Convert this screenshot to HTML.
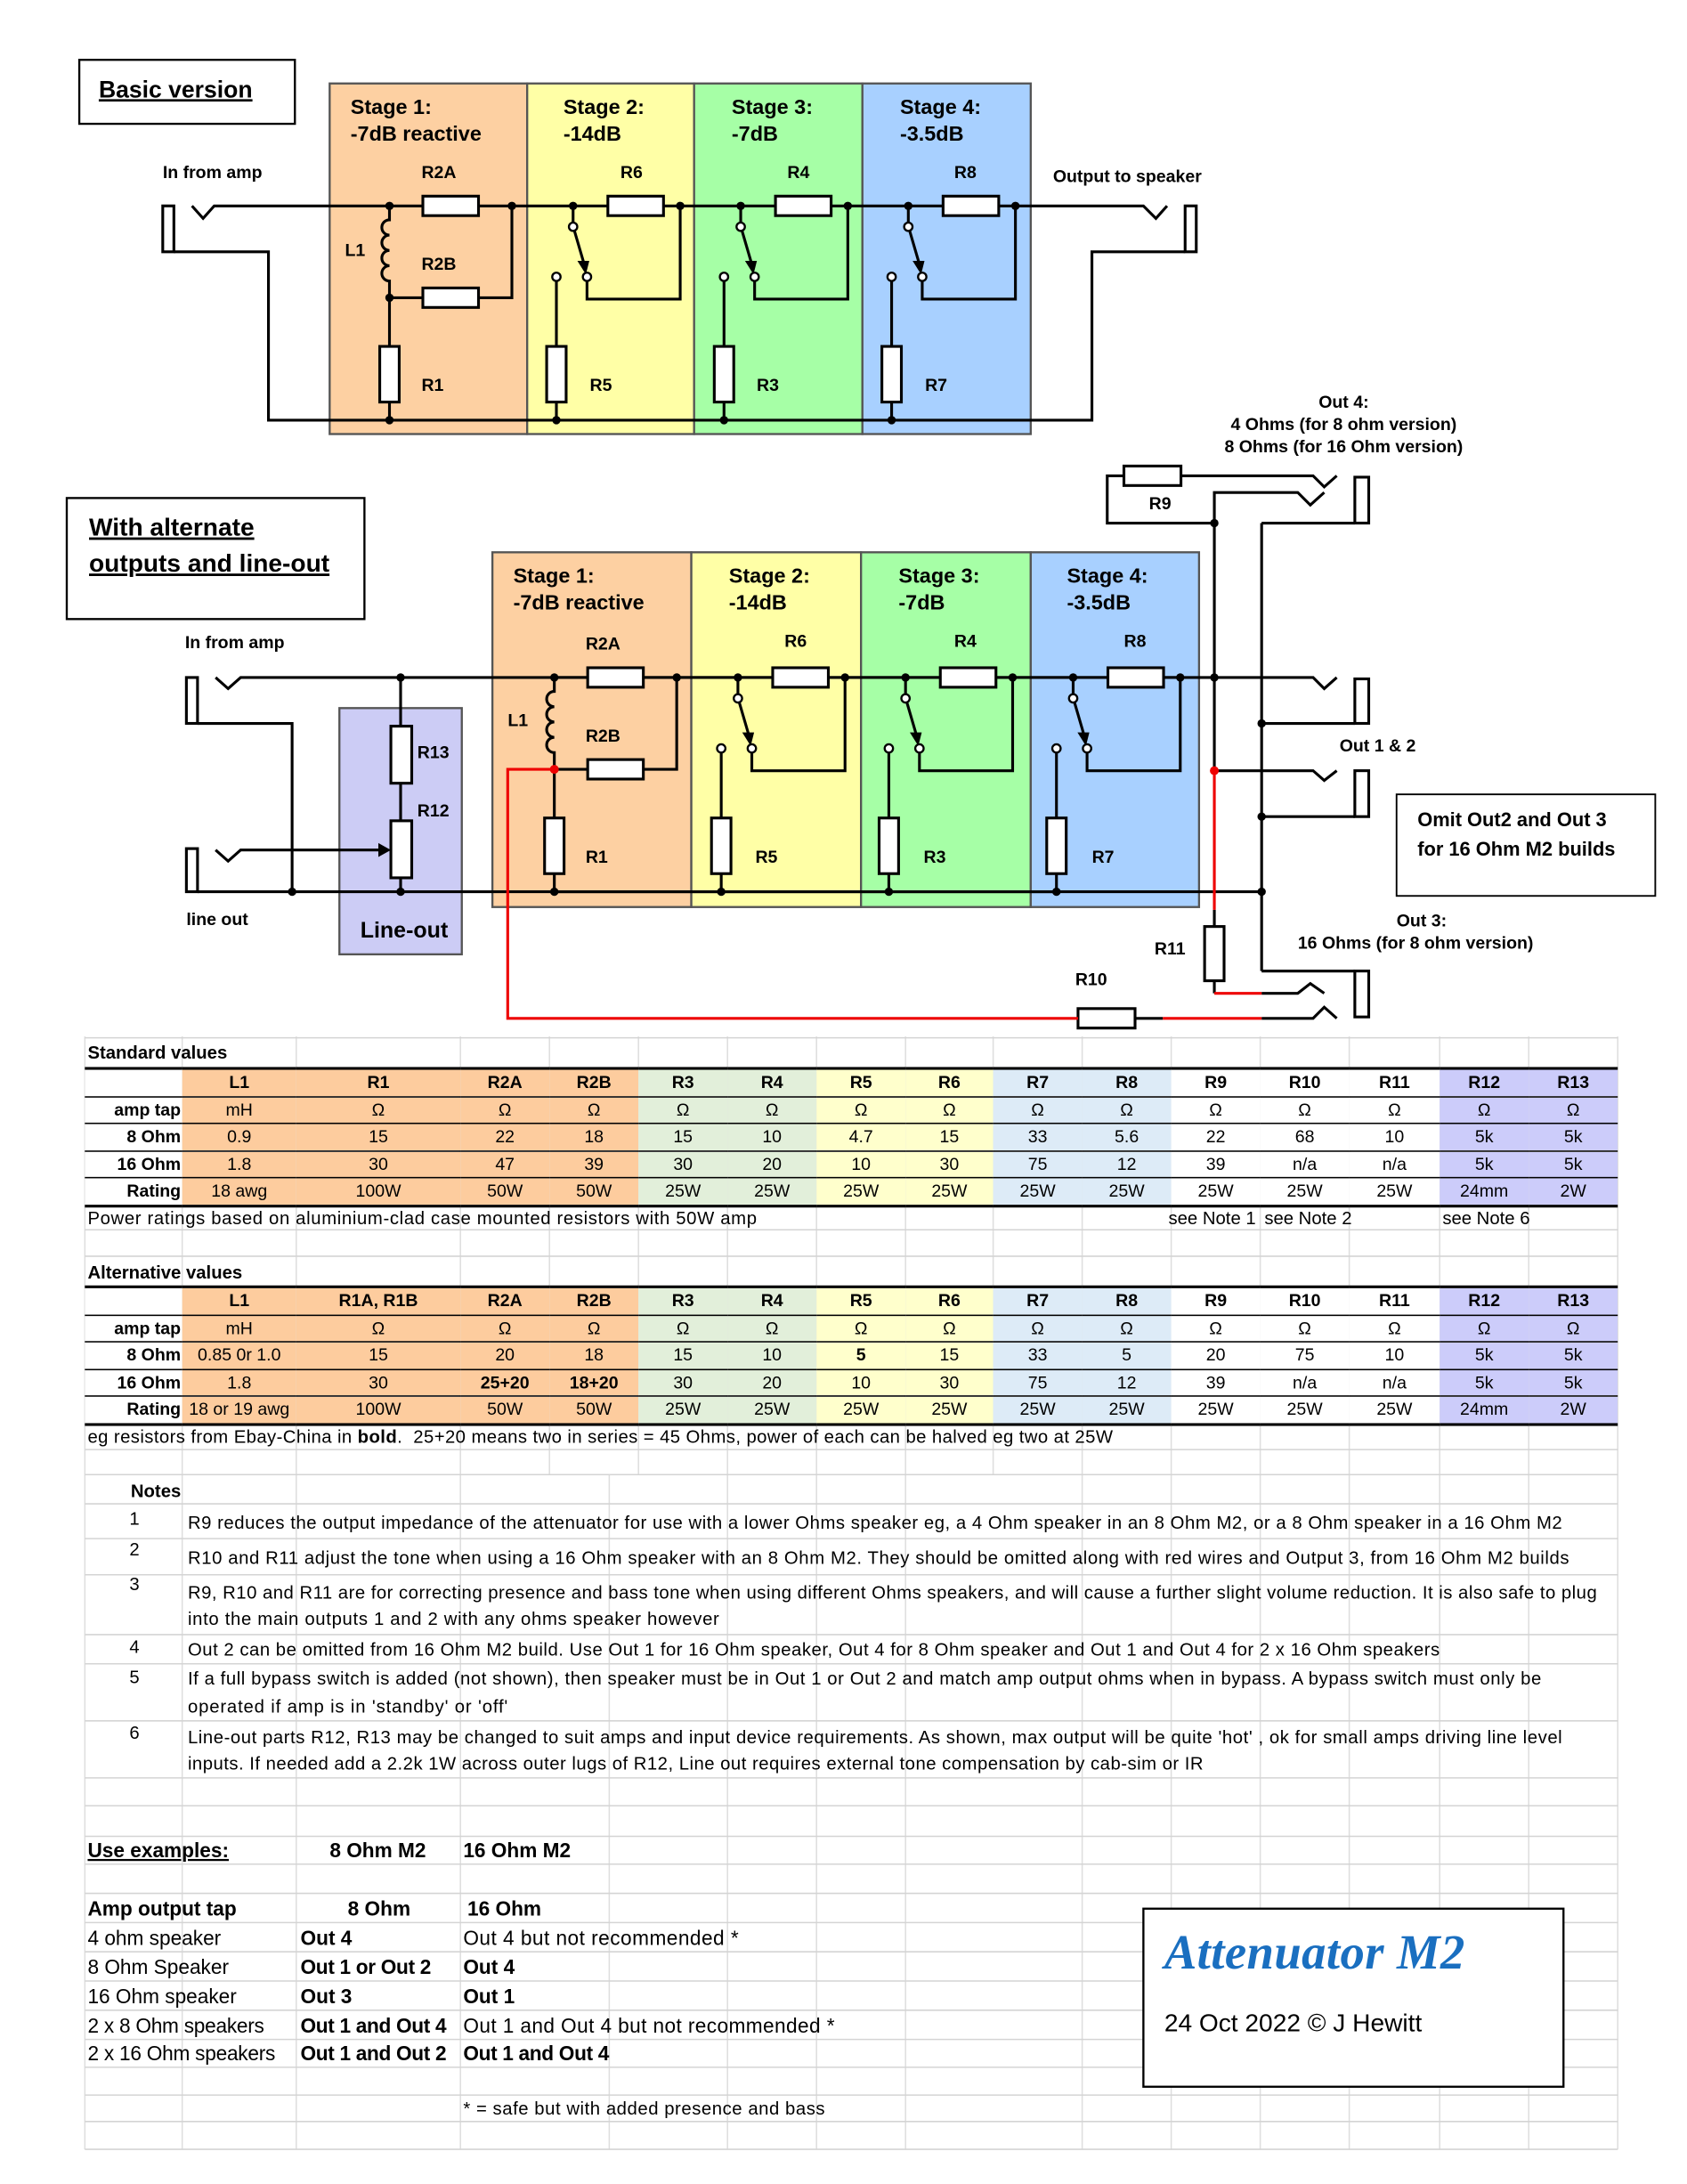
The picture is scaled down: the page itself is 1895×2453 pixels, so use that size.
<!DOCTYPE html>
<html><head><meta charset="utf-8"><style>
html,body{margin:0;padding:0;background:#fff;}
#wrap{position:absolute;left:0;top:0;width:1213px;height:1570px;transform:scale(1.5625);transform-origin:0 0;font-family:"Liberation Sans",sans-serif;}
svg{position:absolute;left:0;top:0;}
table.t{position:absolute;left:61px;width:1102px;border-collapse:collapse;table-layout:fixed;font-size:12.5px;font-family:"Liberation Sans",sans-serif;border-top:2px solid #000;border-bottom:2px solid #000;}
table.t td{height:18.5px;padding:0;text-align:center;border-top:1px solid #000;white-space:nowrap;overflow:hidden;line-height:18px;}
table.t td.l{text-align:right;font-weight:bold;background:#fff;padding-right:1px;}
table.t tr.h td{font-weight:bold;}
.o{background:#fdcc9e;} .g{background:#e2efda;} .y{background:#ffffcc;} .b{background:#ddebf7;} .w{background:#fff;} .p{background:#ccccfa;}
</style></head><body><div id="wrap">
<svg width="1213" height="1570" viewBox="0 0 1213 1570" font-family="Liberation Sans, sans-serif">
<defs>
<g id="stg" stroke="#000" stroke-width="2" fill="none">
 <line x1="280" y1="148" x2="730" y2="148"/>
 <line x1="280" y1="302" x2="641" y2="302"/>
 <path d="M280,148 V158 a5.5,5.5 0 0 0 0,11 a5.5,5.5 0 0 0 0,11 a5.5,5.5 0 0 0 0,11 a5.5,5.5 0 0 0 0,11 V214 H368 V148 M280,214 V302"/>
 <rect x="304" y="141" width="40" height="14" fill="#fff"/>
 <rect x="304" y="207" width="40" height="14" fill="#fff"/>
 <rect x="273" y="249" width="14" height="40" fill="#fff"/>
 <g id="sw">
  <path d="M412,148 V160 M400,202 V302 M422,202 V215 H489 V148"/>
  <line x1="413" y1="166" x2="420" y2="190"/>
  <polygon points="416,188 423,188 421,196" fill="#000" stroke-width="1"/>
  <circle cx="412" cy="163" r="3" fill="#fff" stroke-width="1.5"/>
  <circle cx="422" cy="199" r="3" fill="#fff" stroke-width="1.5"/>
  <circle cx="400" cy="199" r="3" fill="#fff" stroke-width="1.5"/>
  <rect x="437" y="141" width="40" height="14" fill="#fff"/>
  <rect x="393" y="249" width="14" height="40" fill="#fff"/>
  <circle cx="412" cy="148" r="3" fill="#000" stroke="none"/>
  <circle cx="489" cy="148" r="3" fill="#000" stroke="none"/>
  <circle cx="400" cy="302" r="3" fill="#000" stroke="none"/>
 </g>
 <use href="#sw" x="120.5"/>
 <use href="#sw" x="241"/>
 <circle cx="280" cy="148" r="3" fill="#000" stroke="none"/>
 <circle cx="280" cy="214" r="3" fill="#000" stroke="none"/>
 <circle cx="368" cy="148" r="3" fill="#000" stroke="none"/>
 <circle cx="280" cy="302" r="3" fill="#000" stroke="none"/>
</g>
</defs>
<!-- spreadsheet grid -->
<g stroke="#dedede" stroke-width="1">
 <line x1="61" y1="745" x2="61" y2="1545"/><line x1="131" y1="745" x2="131" y2="1545"/><line x1="213" y1="745" x2="213" y2="1545"/><line x1="331" y1="745" x2="331" y2="1545"/><line x1="395" y1="745" x2="395" y2="1060"/><line x1="438" y1="1060" x2="438" y2="1545"/><line x1="459" y1="745" x2="459" y2="1060"/><line x1="523" y1="745" x2="523" y2="1545"/><line x1="587" y1="745" x2="587" y2="1545"/><line x1="651" y1="745" x2="651" y2="1545"/><line x1="714" y1="745" x2="714" y2="1060"/><line x1="778" y1="745" x2="778" y2="1545"/><line x1="842" y1="745" x2="842" y2="1545"/><line x1="906" y1="745" x2="906" y2="1545"/><line x1="970" y1="745" x2="970" y2="1545"/><line x1="1035" y1="745" x2="1035" y2="1545"/><line x1="1099" y1="745" x2="1099" y2="1545"/><line x1="1163" y1="745" x2="1163" y2="1545"/>
 <g stroke="#d4d4d4"><line x1="61" x2="1163" y1="746" y2="746"/><line x1="61" x2="1163" y1="884" y2="884"/><line x1="61" x2="1163" y1="903" y2="903"/><line x1="61" x2="1163" y1="1042" y2="1042"/><line x1="61" x2="1163" y1="1060" y2="1060"/><line x1="61" x2="1163" y1="1081" y2="1081"/><line x1="61" x2="1163" y1="1106" y2="1106"/><line x1="61" x2="1163" y1="1132" y2="1132"/><line x1="61" x2="1163" y1="1175" y2="1175"/><line x1="61" x2="1163" y1="1196" y2="1196"/><line x1="61" x2="1163" y1="1237" y2="1237"/><line x1="61" x2="1163" y1="1278" y2="1278"/><line x1="61" x2="1163" y1="1298" y2="1298"/><line x1="61" x2="1163" y1="1320" y2="1320"/><line x1="61" x2="1163" y1="1340" y2="1340"/><line x1="61" x2="1163" y1="1361" y2="1361"/><line x1="61" x2="1163" y1="1382" y2="1382"/><line x1="61" x2="1163" y1="1403" y2="1403"/><line x1="61" x2="1163" y1="1424" y2="1424"/><line x1="61" x2="1163" y1="1445" y2="1445"/><line x1="61" x2="1163" y1="1466" y2="1466"/><line x1="61" x2="1163" y1="1486" y2="1486"/><line x1="61" x2="1163" y1="1506" y2="1506"/><line x1="61" x2="1163" y1="1525" y2="1525"/><line x1="61" x2="1163" y1="1545" y2="1545"/></g>
</g>

<!-- DIAGRAM 1 -->
<rect x="57" y="43" width="155" height="46" fill="#fff" stroke="#000" stroke-width="1.5"/>
<text x="71" y="70" font-size="17" font-weight="bold" text-decoration="underline">Basic version</text>
<g stroke="#555" stroke-width="1.5">
<rect x="237" y="60" width="142" height="252" fill="#fdd0a2"/>
<rect x="379" y="60" width="120" height="252" fill="#ffffa6"/>
<rect x="499" y="60" width="121" height="252" fill="#a6ffa6"/>
<rect x="620" y="60" width="121" height="252" fill="#a8d0ff"/>
</g>
<g font-size="15" font-weight="bold">
<text x="252" y="82">Stage 1:</text><text x="252" y="101">-7dB reactive</text>
<text x="405" y="82">Stage 2:</text><text x="405" y="101">-14dB</text>
<text x="526" y="82">Stage 3:</text><text x="526" y="101">-7dB</text>
<text x="647" y="82">Stage 4:</text><text x="647" y="101">-3.5dB</text>
</g>
<g stroke="#000" stroke-width="2" fill="none">
<rect x="117" y="148" width="8" height="33"/>
<polyline points="138,148 146,157 154,148 280,148"/>
<polyline points="125,181 193,181 193,302 280,302"/>
<polyline points="730,148 822,148 831,157 839,148"/>
<rect x="852" y="148" width="8" height="33"/>
<polyline points="641,302 785,302 785,181 852,181"/>
</g>
<use href="#stg"/>
<g font-size="12.5" font-weight="bold">
<text x="117" y="128">In from amp</text>
<text x="757" y="131">Output to speaker</text>
<text x="303" y="128">R2A</text><text x="303" y="194">R2B</text><text x="248" y="184">L1</text><text x="303" y="281">R1</text>
<text x="446" y="128">R6</text><text x="424" y="281">R5</text>
<text x="566" y="128">R4</text><text x="544" y="281">R3</text>
<text x="686" y="128">R8</text><text x="665" y="281">R7</text>
</g>

<!-- DIAGRAM 2 -->
<rect x="48" y="358" width="214" height="87" fill="#fff" stroke="#000" stroke-width="1.5"/>
<g font-size="18" font-weight="bold" text-decoration="underline"><text x="64" y="385">With alternate</text><text x="64" y="411">outputs and line-out</text></g>
<g stroke="#555" stroke-width="1.5">
<rect x="354" y="397" width="143" height="255" fill="#fdd0a2"/>
<rect x="497" y="397" width="122" height="255" fill="#ffffa6"/>
<rect x="619" y="397" width="122" height="255" fill="#a6ffa6"/>
<rect x="741" y="397" width="121" height="255" fill="#a8d0ff"/>
<rect x="244" y="509" width="88" height="177" fill="#ccccf5"/>
</g>
<g font-size="15" font-weight="bold">
<text x="369" y="419">Stage 1:</text><text x="369" y="438">-7dB reactive</text>
<text x="524" y="419">Stage 2:</text><text x="524" y="438">-14dB</text>
<text x="646" y="419">Stage 3:</text><text x="646" y="438">-7dB</text>
<text x="767" y="419">Stage 4:</text><text x="767" y="438">-3.5dB</text>
<text x="259" y="674" font-size="16">Line-out</text>
</g>
<g stroke="#000" stroke-width="2" fill="none">
<rect x="134" y="487" width="8" height="33"/>
<polyline points="155,487 164,495 173,487 944,487 952,495 961,487"/>
<polyline points="142,520 210,520 210,641"/>
<rect x="134" y="610" width="8" height="31"/>
<polyline points="155,611 164,619 173,611 272,611"/>
<line x1="142" y1="641" x2="907" y2="641"/>
<line x1="288" y1="487" x2="288" y2="641"/>
<rect x="281" y="522" width="15" height="41" fill="#fff"/>
<rect x="281" y="590" width="15" height="41" fill="#fff"/>
<line x1="873" y1="376" x2="873" y2="554"/>
<line x1="907" y1="376" x2="907" y2="698"/>
<polyline points="873,376 796,376 796,342 808,342"/>
<polyline points="849,342 944,342 952,350 961,342"/>
<polyline points="873,376 873,354 933,354 942,363 952,354"/>
<rect x="974" y="343" width="10" height="33"/>
<line x1="974" y1="376" x2="907" y2="376"/>
<rect x="974" y="488" width="10" height="32"/>
<line x1="974" y1="520" x2="907" y2="520"/>
<polyline points="873,554 944,554 952,561 961,554"/>
<rect x="974" y="554" width="10" height="33"/>
<line x1="974" y1="587" x2="907" y2="587"/>
<rect x="974" y="698" width="10" height="33"/>
<line x1="974" y1="698" x2="907" y2="698"/>
<polyline points="873,654 873,666"/>
<polyline points="873,705 873,714"/>
<polyline points="907,714 933,714 942,707 952,714"/>
<polyline points="816,732 836,732"/>
<polyline points="907,732 944,732 952,724 961,732"/>
<rect x="808" y="335" width="41" height="14" fill="#fff"/>
<rect x="866" y="666" width="14" height="39" fill="#fff"/>
<rect x="775" y="725" width="41" height="14" fill="#fff"/>
</g>
<polygon points="272,606 281,611 272,616" fill="#000"/>
<use href="#stg" x="118.5" y="339"/>
<g stroke="#e00" stroke-width="2" fill="none">
<polyline points="398,553 365,553 365,732 775,732"/>
<line x1="836" y1="732" x2="907" y2="732"/>
<line x1="873" y1="554" x2="873" y2="654"/>
<line x1="873" y1="714" x2="907" y2="714"/>
</g>
<g fill="#000">
<circle cx="210" cy="641" r="3"/><circle cx="288" cy="641" r="3"/><circle cx="288" cy="487" r="3"/>
<circle cx="873" cy="376" r="3"/><circle cx="873" cy="487" r="3"/><circle cx="907" cy="520" r="3"/><circle cx="907" cy="587" r="3"/><circle cx="907" cy="641" r="3"/>
</g>
<circle cx="398.5" cy="553" r="3.2" fill="#e00"/><circle cx="873" cy="554" r="3.2" fill="#e00"/>
<g font-size="12.5" font-weight="bold">
<text x="133" y="466">In from amp</text>
<text x="134" y="665">line out</text>
<text x="300" y="545">R13</text><text x="300" y="587">R12</text>
<text x="365" y="522">L1</text>
<text x="421" y="467">R2A</text><text x="421" y="533">R2B</text><text x="421" y="620">R1</text>
<text x="564" y="465">R6</text><text x="543" y="620">R5</text>
<text x="686" y="465">R4</text><text x="664" y="620">R3</text>
<text x="808" y="465">R8</text><text x="785" y="620">R7</text>
<text x="826" y="366">R9</text><text x="830" y="686">R11</text><text x="773" y="708">R10</text>
<text x="966" y="293" text-anchor="middle">Out 4:</text>
<text x="966" y="309" text-anchor="middle">4 Ohms (for 8 ohm version)</text>
<text x="966" y="325" text-anchor="middle">8 Ohms (for 16 Ohm version)</text>
<text x="963" y="540">Out 1 &amp; 2</text>
<text x="1004" y="666">Out 3:</text>
<text x="933" y="682">16 Ohms (for 8 ohm version)</text>
</g>
<rect x="1004" y="571" width="186" height="73" fill="#fff" stroke="#000" stroke-width="1.2"/>
<g font-size="14" font-weight="bold"><text x="1019" y="594">Omit Out2 and Out 3</text><text x="1019" y="615">for 16 Ohm M2 builds</text></g>

<!-- table captions & notes -->
<g font-size="13" lengthAdjust="spacing">
<text x="63" y="761" font-weight="bold">Standard values</text>
<text x="63" y="880" textLength="481">Power ratings based on aluminium-clad case mounted resistors with 50W amp</text>
<text x="840" y="880">see Note 1</text><text x="909" y="880">see Note 2</text><text x="1037" y="880">see Note 6</text>
<text x="63" y="919" font-weight="bold">Alternative  values</text>
<text x="63" y="1037" xml:space="preserve" textLength="737">eg resistors from Ebay-China in <tspan font-weight="bold">bold</tspan>.  25+20 means two in series = 45 Ohms, power of each can be halved eg two at 25W</text>
<text x="94" y="1076" font-weight="bold">Notes</text>
<text x="93" y="1096">1</text><text x="135" y="1099" textLength="988">R9 reduces the output impedance of the attenuator for use with a lower Ohms speaker eg, a 4 Ohm speaker in an 8 Ohm M2, or a 8 Ohm speaker in a 16 Ohm M2</text>
<text x="93" y="1118">2</text><text x="135" y="1124" textLength="993">R10 and R11 adjust the tone when using a 16 Ohm speaker with an 8 Ohm M2. They should be omitted along with red wires and Output 3, from 16 Ohm M2 builds</text>
<text x="93" y="1143">3</text><text x="135" y="1149" textLength="1013">R9, R10 and R11 are for correcting presence and bass tone when using different Ohms speakers, and will cause a further slight volume reduction. It is also safe to plug</text>
<text x="135" y="1168" textLength="382">into the main outputs 1 and 2 with any ohms speaker however</text>
<text x="93" y="1188">4</text><text x="135" y="1190" textLength="900">Out 2 can be omitted from 16 Ohm M2 build. Use Out 1 for 16 Ohm speaker, Out 4 for 8 Ohm speaker and Out 1 and Out 4 for 2 x 16 Ohm speakers</text>
<text x="93" y="1210">5</text><text x="135" y="1211" textLength="973">If a full bypass switch is added (not shown), then speaker must be in Out 1 or Out 2 and match amp output ohms when in bypass. A bypass switch must only be</text>
<text x="135" y="1231" textLength="230">operated if amp is in 'standby' or 'off'</text>
<text x="93" y="1250">6</text><text x="135" y="1253" textLength="988">Line-out parts R12, R13 may be changed to suit amps and input device requirements. As shown, max output will be quite 'hot' , ok for small amps driving line level</text>
<text x="135" y="1272" textLength="730">inputs. If needed add a 2.2k 1W across outer lugs of R12, Line out requires external tone compensation by cab-sim or IR</text>
</g>
<g font-size="14.5">
<text x="63" y="1335" font-weight="bold" text-decoration="underline">Use examples:</text>
<text x="237" y="1335" font-weight="bold">8 Ohm M2</text><text x="333" y="1335" font-weight="bold">16 Ohm M2</text>
<text x="63" y="1377" font-weight="bold">Amp output tap</text><text x="250" y="1377" font-weight="bold">8 Ohm</text><text x="336" y="1377" font-weight="bold">16 Ohm</text>
<text x="63" y="1398">4 ohm speaker</text><text x="216" y="1398" font-weight="bold">Out 4</text><text x="333" y="1398" textLength="198">Out 4 but not recommended *</text>
<text x="63" y="1419">8 Ohm Speaker</text><text x="216" y="1419" font-weight="bold" textLength="94">Out 1 or Out 2</text><text x="333" y="1419" font-weight="bold">Out 4</text>
<text x="63" y="1440">16 Ohm speaker</text><text x="216" y="1440" font-weight="bold">Out 3</text><text x="333" y="1440" font-weight="bold">Out 1</text>
<text x="63" y="1461" textLength="127">2 x 8 Ohm speakers</text><text x="216" y="1461" font-weight="bold" textLength="105">Out 1 and Out 4</text><text x="333" y="1461" textLength="267">Out 1 and Out 4 but not recommended *</text>
<text x="63" y="1481" textLength="135">2 x 16 Ohm speakers</text><text x="216" y="1481" font-weight="bold" textLength="105">Out 1 and Out 2</text><text x="333" y="1481" font-weight="bold" textLength="105">Out 1 and Out 4</text>
<text x="333" y="1520" font-size="13" textLength="260">* = safe but with added presence and bass</text>
</g>
<rect x="822" y="1372" width="302" height="128" fill="#fff" stroke="#000" stroke-width="1.5"/>
<text x="837" y="1415" font-family="Liberation Serif, serif" font-size="35" font-weight="bold" font-style="italic" fill="#1a6fc0" textLength="216">Attenuator M2</text>
<text x="837" y="1460" font-size="18">24 Oct 2022 © J Hewitt</text>
</svg>

<table class="t" style="top:767px">
<colgroup><col style="width:70px"><col style="width:82px"><col style="width:118px"><col style="width:64px"><col style="width:64px"><col style="width:64px"><col style="width:64px"><col style="width:64px"><col style="width:63px"><col style="width:64px"><col style="width:64px"><col style="width:64px"><col style="width:64px"><col style="width:65px"><col style="width:64px"><col style="width:64px"></colgroup>
<tr class="h"><td class="l"></td><td class="o">L1</td><td class="o">R1</td><td class="o">R2A</td><td class="o">R2B</td><td class="g">R3</td><td class="g">R4</td><td class="y">R5</td><td class="y">R6</td><td class="b">R7</td><td class="b">R8</td><td class="w">R9</td><td class="w">R10</td><td class="w">R11</td><td class="p">R12</td><td class="p">R13</td></tr>
<tr><td class="l">amp tap</td><td class="o">mH</td><td class="o">Ω</td><td class="o">Ω</td><td class="o">Ω</td><td class="g">Ω</td><td class="g">Ω</td><td class="y">Ω</td><td class="y">Ω</td><td class="b">Ω</td><td class="b">Ω</td><td class="w">Ω</td><td class="w">Ω</td><td class="w">Ω</td><td class="p">Ω</td><td class="p">Ω</td></tr>
<tr><td class="l">8 Ohm</td><td class="o">0.9</td><td class="o">15</td><td class="o">22</td><td class="o">18</td><td class="g">15</td><td class="g">10</td><td class="y">4.7</td><td class="y">15</td><td class="b">33</td><td class="b">5.6</td><td class="w">22</td><td class="w">68</td><td class="w">10</td><td class="p">5k</td><td class="p">5k</td></tr>
<tr><td class="l">16 Ohm</td><td class="o">1.8</td><td class="o">30</td><td class="o">47</td><td class="o">39</td><td class="g">30</td><td class="g">20</td><td class="y">10</td><td class="y">30</td><td class="b">75</td><td class="b">12</td><td class="w">39</td><td class="w">n/a</td><td class="w">n/a</td><td class="p">5k</td><td class="p">5k</td></tr>
<tr><td class="l">Rating</td><td class="o">18 awg</td><td class="o">100W</td><td class="o">50W</td><td class="o">50W</td><td class="g">25W</td><td class="g">25W</td><td class="y">25W</td><td class="y">25W</td><td class="b">25W</td><td class="b">25W</td><td class="w">25W</td><td class="w">25W</td><td class="w">25W</td><td class="p">24mm</td><td class="p">2W</td></tr>
</table>

<table class="t" style="top:924px">
<colgroup><col style="width:70px"><col style="width:82px"><col style="width:118px"><col style="width:64px"><col style="width:64px"><col style="width:64px"><col style="width:64px"><col style="width:64px"><col style="width:63px"><col style="width:64px"><col style="width:64px"><col style="width:64px"><col style="width:64px"><col style="width:65px"><col style="width:64px"><col style="width:64px"></colgroup>
<tr class="h"><td class="l"></td><td class="o">L1</td><td class="o">R1A, R1B</td><td class="o">R2A</td><td class="o">R2B</td><td class="g">R3</td><td class="g">R4</td><td class="y">R5</td><td class="y">R6</td><td class="b">R7</td><td class="b">R8</td><td class="w">R9</td><td class="w">R10</td><td class="w">R11</td><td class="p">R12</td><td class="p">R13</td></tr>
<tr><td class="l">amp tap</td><td class="o">mH</td><td class="o">Ω</td><td class="o">Ω</td><td class="o">Ω</td><td class="g">Ω</td><td class="g">Ω</td><td class="y">Ω</td><td class="y">Ω</td><td class="b">Ω</td><td class="b">Ω</td><td class="w">Ω</td><td class="w">Ω</td><td class="w">Ω</td><td class="p">Ω</td><td class="p">Ω</td></tr>
<tr><td class="l">8 Ohm</td><td class="o">0.85 0r 1.0</td><td class="o">15</td><td class="o">20</td><td class="o">18</td><td class="g">15</td><td class="g">10</td><td class="y"><b>5</b></td><td class="y">15</td><td class="b">33</td><td class="b">5</td><td class="w">20</td><td class="w">75</td><td class="w">10</td><td class="p">5k</td><td class="p">5k</td></tr>
<tr><td class="l">16 Ohm</td><td class="o">1.8</td><td class="o">30</td><td class="o"><b>25+20</b></td><td class="o"><b>18+20</b></td><td class="g">30</td><td class="g">20</td><td class="y">10</td><td class="y">30</td><td class="b">75</td><td class="b">12</td><td class="w">39</td><td class="w">n/a</td><td class="w">n/a</td><td class="p">5k</td><td class="p">5k</td></tr>
<tr><td class="l">Rating</td><td class="o">18 or 19 awg</td><td class="o">100W</td><td class="o">50W</td><td class="o">50W</td><td class="g">25W</td><td class="g">25W</td><td class="y">25W</td><td class="y">25W</td><td class="b">25W</td><td class="b">25W</td><td class="w">25W</td><td class="w">25W</td><td class="w">25W</td><td class="p">24mm</td><td class="p">2W</td></tr>
</table>
</div></body></html>
